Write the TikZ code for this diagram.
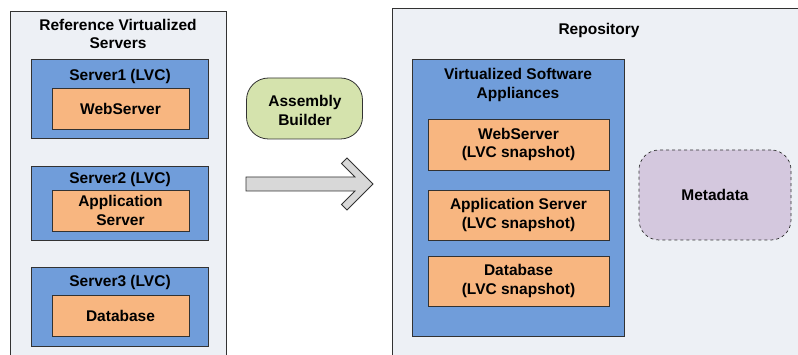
\documentclass[tikz,border=0pt]{standalone}
\usepackage{fontspec}
\setmainfont{Liberation Sans}
\definecolor{panelbg}{RGB}{237,240,245}
\definecolor{edge}{RGB}{50,50,50}
\definecolor{lvcblue}{RGB}{112,157,218}
\definecolor{appor}{RGB}{248,182,128}
\definecolor{buildgreen}{RGB}{213,227,173}
\definecolor{metalav}{RGB}{212,200,222}
\definecolor{arrowgray}{RGB}{216,216,216}
\begin{document}
\begin{tikzpicture}[x=1pt,y=-1pt,
  every node/.style={font=\fontsize{15.5}{18.5}\selectfont\bfseries, inner sep=0pt, outer sep=0pt},
  panel/.style={draw=edge, fill=panelbg, line width=0.9pt},
  lvc/.style={draw=edge, fill=lvcblue, line width=0.8pt},
  app/.style={draw=edge, fill=appor, line width=0.8pt},
  label/.style={align=center}
]
\useasboundingbox (0,0) rectangle (798,355);
\clip (0,0) rectangle (798,355);

% left panel: reference servers
\fill[panelbg] (10,11) rectangle (226,370);
\draw[edge, line width=0.9pt] (10,370) -- (10,11) -- (226,11) -- (226,370);
\node[label] (reftitle) at (118,34) {Reference Virtualized\\Servers};

\node[lvc, minimum width=177pt, minimum height=79pt] (srv1) at (120,98.5) {};
\node (srv1t) at (120,76) {Server1 (LVC)};
\node[app, minimum width=137pt, minimum height=41pt] (web) at (120.5,108.5) {WebServer};

\node[lvc, minimum width=177pt, minimum height=74pt] (srv2) at (120,203) {};
\node (srv2t) at (120,179) {Server2 (LVC)};
\node[app, minimum width=137pt, minimum height=41pt, label] (appsrv) at (120.5,210.5) {Application\\Server};

\node[lvc, minimum width=177pt, minimum height=79pt] (srv3) at (120,306.5) {};
\node (srv3t) at (120,282) {Server3 (LVC)};
\node[app, minimum width=137pt, minimum height=41pt] (db) at (120.5,315.5) {Database};

% assembly builder
\node[draw=edge, fill=buildgreen, line width=0.8pt, rounded corners=22pt,
      minimum width=116pt, minimum height=61pt] (builder) at (304.5,108.5) {};
\node[label] (buildert) at (305,110.5) {Assembly\\Builder};

% block arrow
\draw[edge, fill=arrowgray, line width=0.8pt, line join=miter]
  (246,177) -- (355,177) -- (341.5,163.5) -- (347,158) -- (373,184)
  -- (347,210) -- (341.5,204.5) -- (355,191) -- (246,191) -- cycle;

% right panel: repository
\fill[panelbg] (392,8) rectangle (810,370);
\draw[edge, line width=0.9pt] (392,370) -- (392,8) -- (810,8);
\node (repotitle) at (599,30) {Repository};

\node[lvc, minimum width=212pt, minimum height=277pt] (vsa) at (518,197.5) {};
\node[label] (vsat) at (518,85) {Virtualized Software\\Appliances};
\node[app, minimum width=181pt, minimum height=51pt, label] (webs) at (518.5,144.5) {WebServer\\(LVC snapshot)};
\node[app, minimum width=181pt, minimum height=50pt, label] (apps) at (518.5,215) {Application Server\\(LVC snapshot)};
\node[app, minimum width=181pt, minimum height=50pt, label] (dbs) at (518.5,281) {Database\\(LVC snapshot)};

\node[draw=edge, fill=metalav, dashed, line width=0.7pt, rounded corners=20pt,
      minimum width=152pt, minimum height=90pt] (meta) at (715,195) {Metadata};
\end{tikzpicture}
\end{document}
